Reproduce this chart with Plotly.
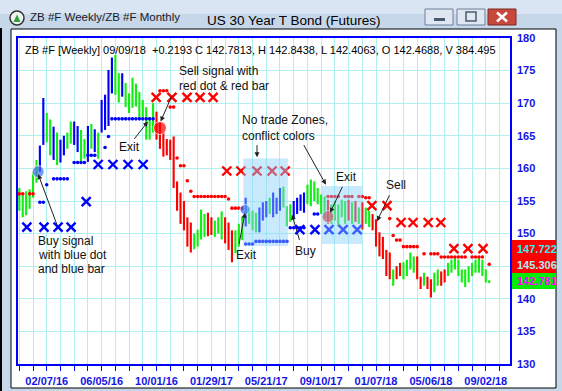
import plotly.graph_objects as go

# ---------------- data (weekly bars, index 0..137) ----------------
highs = [157.0, 156.0, 156.5, 156.8, 159.5, 161.3, 163.5, 170.8, 168.5, 167.5,
         166.4, 165.5, 164.4, 165.0, 165.5, 167.2, 167.2, 166.5, 165.9, 164.5,
         166.5, 166.8, 166.0, 165.5, 170.5, 171.3, 175.1, 177.0, 177.4, 174.6,
         174.6, 173.1, 171.5, 173.9, 173.0, 171.7, 170.5, 169.4, 167.9, 170.0,
         168.7, 167.0, 165.5, 164.5, 164.4, 164.9, 158.0, 156.3, 155.0, 152.5,
         151.7, 150.0, 150.6, 153.7, 153.0, 153.2, 152.5, 152.0, 152.5, 153.4,
         152.5, 151.7, 150.5, 150.5, 151.5, 152.6, 155.5, 154.0, 153.5, 153.2,
         154.0, 154.8, 155.0, 155.5, 156.3, 155.5, 157.0, 157.2, 154.2, 154.5,
         155.0, 155.5, 156.0, 156.3, 157.5, 158.3, 158.0, 157.0, 156.0, 155.7,
         155.2, 154.5, 155.0, 154.5, 155.2, 155.0, 155.2, 154.8, 155.0, 154.0,
         154.8, 154.0, 153.5, 153.0, 152.2, 150.2, 149.5, 147.5, 147.1, 144.5,
         145.0, 145.5, 145.6, 146.0, 147.1, 146.5, 146.5, 143.4, 144.0, 143.4,
         143.0, 144.0, 144.5, 144.2, 144.5, 145.5, 146.0, 146.5, 146.0, 144.5,
         144.5, 145.0, 145.5, 146.0, 146.5, 146.0, 144.5, 142.84]
lows = [153.5, 152.5, 152.8, 153.8, 155.5, 157.8, 159.5, 163.6, 164.0, 162.0,
        161.3, 160.5, 160.9, 162.0, 163.0, 163.8, 163.6, 162.5, 160.9, 161.5,
        161.0, 163.0, 162.5, 161.5, 165.5, 165.9, 166.5, 171.5, 171.3, 170.1,
        171.0, 169.4, 168.5, 169.3, 169.5, 167.5, 167.5, 164.4, 164.4, 165.5,
        164.4, 163.0, 161.8, 162.0, 161.3, 157.0, 153.5, 151.5, 150.5, 148.0,
        147.1, 147.6, 148.0, 149.1, 149.5, 149.6, 149.8, 149.5, 150.0, 149.1,
        148.5, 147.5, 145.6, 147.0, 148.0, 149.0, 151.1, 151.5, 150.5, 150.2,
        150.2, 152.0, 152.5, 153.0, 152.5, 153.0, 153.5, 154.0, 151.1, 151.8,
        152.2, 153.0, 153.5, 153.2, 154.5, 154.2, 155.0, 154.5, 153.0, 152.2,
        151.5, 151.5, 152.0, 151.1, 152.5, 151.5, 152.0, 151.5, 151.8, 151.5,
        150.6, 151.5, 151.0, 150.5, 148.0, 146.5, 146.1, 143.5, 143.0, 142.0,
        143.0, 143.5, 143.0, 143.5, 144.5, 144.0, 143.0, 141.5, 142.0, 141.5,
        140.2, 141.0, 142.0, 142.0, 142.5, 143.5, 144.0, 144.5, 143.5, 142.5,
        141.8, 142.5, 143.5, 144.0, 144.0, 143.5, 142.5, 142.41]
bar_colors = ['g', 'g', 'g', 'g', 'g', 'g', 'b', 'b', 'g', 'g',
              'b', 'g', 'b', 'b', 'g', 'g', 'b', 'b', 'g', 'g',
              'b', 'g', 'b', 'g', 'b', 'b', 'b', 'b', 'g', 'g',
              'b', 'g', 'g', 'g', 'g', 'g', 'g', 'g', 'g', 'g',
              'r', 'r', 'r', 'r', 'r', 'r', 'r', 'r', 'r', 'r',
              'r', 'g', 'g', 'g', 'g', 'r', 'r', 'g', 'g', 'g',
              'r', 'r', 'r', 'g', 'g', 'g', 'b', 'g', 'g', 'g',
              'b', 'b', 'b', 'g', 'b', 'b', 'b', 'g', 'g', 'g',
              'b', 'b', 'b', 'b', 'g', 'g', 'g', 'g', 'g', 'g',
              'r', 'g', 'g', 'g', 'g', 'g', 'r', 'g', 'r', 'g',
              'r', 'g', 'g', 'r', 'r', 'r', 'r', 'r', 'r', 'g',
              'r', 'r', 'g', 'g', 'g', 'g', 'r', 'r', 'g', 'r',
              'r', 'g', 'g', 'r', 'r', 'g', 'g', 'g', 'g', 'g',
              'g', 'g', 'g', 'g', 'g', 'g', 'g', 'g']

# weekly stop dots
blue_dot_x = [6, 7, 8, 10, 11, 12, 13, 14, 16, 17, 18, 19, 20, 21, 22, 25, 26,
              27, 28, 29, 30, 31, 32, 33, 34, 35, 36, 37, 38, 39,
              66, 67, 68, 69, 70, 71, 72, 73, 74, 75, 76, 77, 78,
              79, 80, 81, 82, 83, 86, 87]
blue_dot_y = [154.8, 154.8, 157.5, 158.4, 158.4, 158.4, 158.4, 158.4, 160.9, 160.9,
              160.9, 160.9, 162.0, 162.0, 162.0, 163.2, 164.9,
              167.6, 167.6, 167.6, 167.6, 167.6, 167.6, 167.6, 167.6, 167.6, 167.6,
              167.6, 167.6, 167.6,
              148.4, 148.4, 148.4, 148.8, 148.8, 148.8, 148.8, 148.8, 148.8, 148.8,
              148.8, 148.8, 148.8,
              150.9, 150.9, 150.9, 150.9, 150.9, 153.0, 153.0]
red_dot_x = [0, 1, 3, 4, 41, 42, 43, 44, 45, 46, 47, 48, 49, 50,
             51, 52, 53, 54, 55, 56, 57, 58, 59, 60, 61, 62, 63, 64, 65,
             90, 91, 92, 93, 95, 96, 97, 99, 100, 101, 102,
             108, 109, 110, 111, 112, 113, 114, 115, 116, 118, 120, 121, 122,
             123, 124, 125, 126, 127, 128, 129, 130, 132, 133, 134, 135, 137]
red_dot_y = [156.1, 156.1, 156.1, 156.1, 171.9, 171.9, 171.9, 169.4, 169.4, 161.6,
             160.4, 160.4, 158.1, 156.5,
             155.7, 155.7, 155.7, 155.7, 155.7, 155.7, 155.7, 155.7, 155.7, 155.7,
             155.3, 153.9, 153.9, 153.9, 153.9,
             155.7, 155.7, 155.7, 155.7, 155.7, 155.7, 155.7, 155.7, 155.7, 155.5, 155.5,
             152.3, 149.7, 149.0, 149.0, 148.0, 148.0, 148.0, 148.0, 148.0,
             146.9, 146.9, 146.9, 146.9,
             146.4, 146.4, 146.4, 146.4, 146.4, 146.4, 146.4, 146.4, 146.4, 146.4,
             146.4, 146.4, 145.3]

# monthly stops (X marks)
blue_x_x = [2.2, 7.2, 11.3, 15.1, 19.5, 23.0, 27.3, 31.7, 36.1,
            81.8, 86.2, 90.3, 94.4, 98.5]
blue_x_y = [151.0, 151.0, 151.0, 151.0, 154.9, 160.6, 160.6, 160.6, 160.6,
            150.6, 150.6, 150.6, 150.6, 150.6]
red_x_x = [39.9, 44.5, 48.9, 52.7, 56.5, 60.5, 64.6, 69.3, 73.7, 77.5,
           102.8, 107.2, 111.3, 114.8, 119.2, 122.9, 126.7, 130.8, 135.2]
red_x_y = [170.9, 170.9, 170.9, 170.9, 170.9, 159.6, 159.6, 159.6, 159.6, 159.6,
           154.3, 154.3, 151.7, 151.7, 151.7, 151.7, 147.7, 147.7, 147.7]

# signal dots
signal_x = [5.5, 41.0, 65.8, 90.0]
signal_y = [159.5, 166.2, 153.7, 152.6]
signal_colors = ['#3d72ef', '#ff0000', '#1f5ef0', '#ff1010']
signal_sizes = [12, 13, 10, 12]

# no-trade zones (bar index range, price range)
zones = [(65.3, 78.3, 148.1, 161.5), (88.2, 100.0, 148.4, 157.3)]

# axis labels
tick_bars = list(range(0, 141, 4))
label_bars = [8, 24, 40, 56, 72, 88, 104, 120, 136]
label_text = ['02/07/16', '06/05/16', '10/01/16', '01/29/17', '05/21/17',
              '09/10/17', '01/07/18', '05/06/18', '09/02/18']
y_ticks = [130, 135, 140, 145, 150, 155, 160, 165, 170, 175, 180]

header = ('ZB #F [Weekly] 09/09/18  +0.2193 C 142.7813, H 142.8438, '
          'L 142.4063, O 142.4688, V 384.495')
price_tags = [('147.722', '#33eeee'), ('145.306', '#a8eef0'), ('142.781', '#ff00ff')]

# ---------------- layout helpers (pixel -> paper) ----------------
W, H = 562, 391
PL, PR, PT, PB = 18, 510, 38, 364


def px(X):
    return (X - PL) / (PR - PL)


def py(Y):
    return (PB - Y) / (PB - PT)


fig = go.Figure()

cmap = {'g': '#11ee11', 'b': '#0000ff', 'r': '#ff0000'}
idx = list(range(len(highs)))
fig.add_trace(go.Bar(
    x=idx, y=[h - l for h, l in zip(highs, lows)], base=lows,
    marker=dict(color=[cmap[c] for c in bar_colors], line=dict(width=0)),
    width=0.62, hoverinfo='skip'))

fig.add_trace(go.Scatter(x=blue_dot_x, y=blue_dot_y, mode='markers',
                         marker=dict(color='#0000ff', size=3.6)))
fig.add_trace(go.Scatter(x=red_dot_x, y=red_dot_y, mode='markers',
                         marker=dict(color='#ff0000', size=3.6)))
fig.add_trace(go.Scatter(x=blue_x_x, y=blue_x_y, mode='markers',
                         marker=dict(symbol='x-thin', size=9,
                                     line=dict(color='#0000ff', width=2.4))))
fig.add_trace(go.Scatter(x=red_x_x, y=red_x_y, mode='markers',
                         marker=dict(symbol='x-thin', size=9,
                                     line=dict(color='#ff0000', width=2.4))))
fig.add_trace(go.Scatter(x=signal_x, y=signal_y, mode='markers',
                         marker=dict(color=signal_colors, size=signal_sizes)))

shapes = []
# window chrome
shapes.append(dict(type='rect', xref='paper', yref='paper', x0=px(0), x1=px(562),
                   y0=py(0), y1=py(14), fillcolor='#d9e5f2', line=dict(width=0), layer='below'))
shapes.append(dict(type='rect', xref='paper', yref='paper', x0=px(11), x1=px(556),
                   y0=py(29), y1=py(388), fillcolor='white',
                   line=dict(color='#000000', width=1), layer='below'))
shapes.append(dict(type='line', xref='paper', yref='paper', x0=px(1), x1=px(1),
                   y0=py(28), y1=py(391), line=dict(color='#000000', width=2), layer='below'))
# icon
shapes.append(dict(type='circle', xref='paper', yref='paper', x0=px(10), x1=px(24),
                   y0=py(11), y1=py(25), fillcolor='#eef3ee',
                   line=dict(color='#333333', width=1.5), layer='below'))
shapes.append(dict(type='path', xref='paper', yref='paper',
                   path='M %f %f L %f %f L %f %f Z' % (px(13.5), py(22), px(17), py(14.5), px(20.5), py(22)),
                   fillcolor='#2f9e3f', line=dict(width=0), layer='below'))
# window buttons
shapes.append(dict(type='rect', xref='paper', yref='paper', x0=px(425), x1=px(453),
                   y0=py(9), y1=py(25), fillcolor='#dfe8f2',
                   line=dict(color='#6e7f98', width=1), layer='below'))
shapes.append(dict(type='rect', xref='paper', yref='paper', x0=px(434), x1=px(445),
                   y0=py(18), y1=py(21), fillcolor='#4a5a70', line=dict(width=0), layer='below'))
shapes.append(dict(type='rect', xref='paper', yref='paper', x0=px(457), x1=px(485),
                   y0=py(9), y1=py(25), fillcolor='#dfe8f2',
                   line=dict(color='#6e7f98', width=1), layer='below'))
shapes.append(dict(type='rect', xref='paper', yref='paper', x0=px(466), x1=px(476),
                   y0=py(12), y1=py(21), fillcolor='rgba(0,0,0,0)',
                   line=dict(color='#4a5a70', width=1.5), layer='below'))
shapes.append(dict(type='rect', xref='paper', yref='paper', x0=px(488), x1=px(516),
                   y0=py(9), y1=py(25), fillcolor='#c8493c',
                   line=dict(color='#7a2a22', width=1), layer='below'))
shapes.append(dict(type='line', xref='paper', yref='paper', x0=px(497), x1=px(507),
                   y0=py(12.5), y1=py(21.5), line=dict(color='white', width=2.5), layer='below'))
shapes.append(dict(type='line', xref='paper', yref='paper', x0=px(507), x1=px(497),
                   y0=py(12.5), y1=py(21.5), line=dict(color='white', width=2.5), layer='below'))
# zones
for x0, x1, y0, y1 in zones:
    shapes.append(dict(type='rect', xref='x', yref='y', x0=x0, x1=x1, y0=y0, y1=y1,
                       fillcolor='rgba(135,206,250,0.45)', line=dict(width=0), layer='above'))
# price tags on the right
shapes.append(dict(type='rect', xref='paper', yref='paper', x0=px(512), x1=px(556),
                   y0=py(240), y1=py(273), fillcolor='#ff0000', line=dict(width=0), layer='above'))
shapes.append(dict(type='rect', xref='paper', yref='paper', x0=px(512), x1=px(556),
                   y0=py(273), y1=py(289), fillcolor='#00ee00', line=dict(width=0), layer='above'))

ann = []
base_font = dict(family='Arial', size=12, color='#111111')


def txt(x, y, text, xanchor='left', xref='x', yref='y', font=None):
    ann.append(dict(x=x, y=y, xref=xref, yref=yref, text=text, showarrow=False,
                    xanchor=xanchor, yanchor='middle', font=font or base_font))


def arrow(hx, hy, tx, ty):
    ann.append(dict(x=hx, y=hy, ax=tx, ay=ty, xref='x', yref='y', axref='x', ayref='y',
                    text='', showarrow=True, arrowhead=2, arrowsize=1, arrowwidth=1,
                    arrowcolor='#222222'))


# title bar texts
txt(px(28), py(17), 'ZB #F Weekly/ZB #F Monthly', xref='paper', yref='paper',
    font=dict(family='Arial', size=11.5, color='#1a1a2a'))
txt(px(294), py(20), 'US 30 Year T Bond (Futures)', xanchor='center', xref='paper', yref='paper',
    font=dict(family='Arial', size=13.5, color='#000000'))
# header line
txt(px(23), py(50), header, xref='paper', yref='paper',
    font=dict(family='Arial', size=11, color='#000000'))

# callouts
txt(46.0, 174.95, 'Sell signal with')
txt(46.0, 172.66, 'red dot &amp; red bar')
arrow(41.2, 167.2, 44.7, 171.4)
txt(32.0, 163.3, 'Exit', xanchor='center')
arrow(37.5, 167.2, 33.2, 164.3)
txt(4.9, 148.8, 'Buy signal')
txt(4.9, 146.7, 'with blue dot')
txt(4.9, 144.5, 'and blue bar')
arrow(5.5, 159.1, 11.3, 150.9)
txt(64.3, 167.45, 'No trade Zones,')
txt(64.3, 165.0, 'conflict colors')
arrow(69.3, 161.7, 69.3, 163.8)
arrow(89.4, 157.5, 82.7, 163.8)
txt(66.1, 146.7, 'Exit', xanchor='center')
arrow(65.8, 153.2, 64.0, 148.2)
txt(83.3, 147.4, 'Buy', xanchor='center')
arrow(79.5, 152.9, 81.8, 148.8)
txt(95.5, 158.75, 'Exit', xanchor='center')
arrow(90.6, 153.2, 94.4, 157.4)
txt(109.8, 157.4, 'Sell', xanchor='center')
arrow(104.3, 151.9, 108.1, 156.1)

# price tags text
for (t, c), Y in zip(price_tags, [249, 265, 281]):
    txt(px(515), py(Y), t, xref='paper', yref='paper',
        font=dict(family='Arial', size=11, color=c, weight='bold'))

axis_font = dict(family='Arial', size=11, color='#1414e6', weight='bold')
fig.update_layout(
    width=W, height=H,
    margin=dict(l=PL, r=W - PR, t=PT, b=H - PB, autoexpand=False),
    paper_bgcolor='#c6d7ea', plot_bgcolor='white',
    showlegend=False, shapes=shapes, annotations=ann,
    xaxis=dict(range=[-0.38, 143.06], tickmode='array', tickvals=tick_bars,
               ticktext=[label_text[label_bars.index(b)] if b in label_bars else ''
                         for b in tick_bars],
               ticks='outside', ticklen=5, tickcolor='#0000ff', tickwidth=1,
               ticklabelstandoff=1, automargin=False,
               showgrid=True, gridcolor='#b2f0f0', gridwidth=1,
               showline=True, linecolor='#0000ff', linewidth=1.5, mirror=True,
               zeroline=False, tickfont=axis_font, fixedrange=True),
    yaxis=dict(range=[130, 180], side='right', tickmode='array', tickvals=y_ticks,
               ticktext=['' if v == 145 else str(v) for v in y_ticks],
               ticks='', ticklabelstandoff=3, automargin=False,
               showgrid=True, gridcolor='#b2f0f0', gridwidth=1,
               showline=True, linecolor='#0000ff', linewidth=1.5, mirror=True,
               zeroline=False, tickfont=axis_font, fixedrange=True),
)

fig.write_html('out.html', config={'displayModeBar': False},
               post_script="document.body.style.margin='0';document.body.style.padding='0';"
                           "document.documentElement.style.overflow='hidden';")
